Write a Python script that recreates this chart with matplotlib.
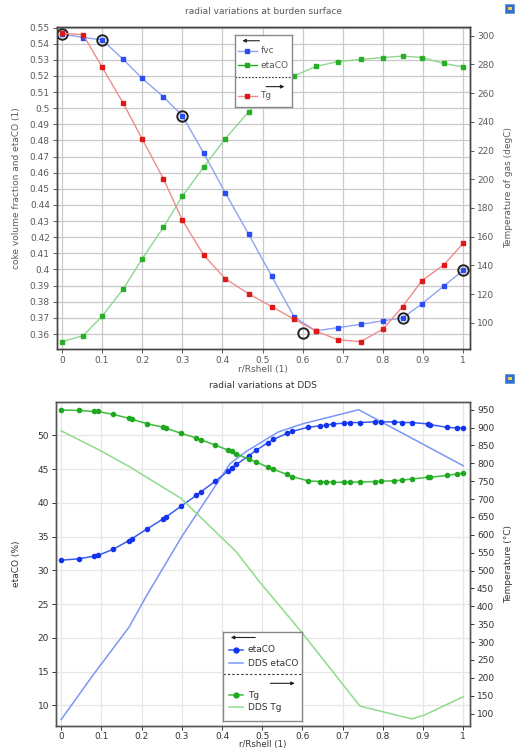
import matplotlib

matplotlib.use('Agg')  # no display
import matplotlib.pyplot as plt
from matplotlib.patches import Rectangle

plt.rcParams['font.family'] = ['DejaVu Sans']
plt.rcParams['font.size'] = 6.5

# ---- burden surface data ----
r_top = [0, 0.053, 0.1, 0.153, 0.2, 0.253, 0.3, 0.353, 0.407, 0.465,
         0.523, 0.579, 0.633, 0.687, 0.745, 0.801, 0.849, 0.897, 0.952, 1.0]
fvc = [0.546, 0.5438, 0.5424, 0.5302, 0.5185, 0.507, 0.4954, 0.4723, 0.4476, 0.422,
       0.3958, 0.3705, 0.362, 0.3639, 0.366, 0.3682, 0.370, 0.3787, 0.3898, 0.3995]
eta_top = [0.3553, 0.359, 0.371, 0.388, 0.4066, 0.4262, 0.4454, 0.4634, 0.481, 0.4977,
           0.5105, 0.520, 0.5259, 0.5288, 0.5302, 0.5314, 0.5323, 0.5314, 0.5277, 0.5255]
tg_top = [301.7, 300.7, 278.2, 252.9, 228, 200.3, 171.6, 147.2, 130.7, 120.2,
          111.2, 102.4, 94.2, 88.2, 86.8, 95.8, 111.2, 129.3, 140.4, 155.3]
# circled points
ring_r = [0, 0.1, 0.3, 0.6, 0.85, 1.0]
ring_v = [0.546, 0.5424, 0.4954, 0.3604, 0.370, 0.3995]

# ---- DDS data ----
r_dds = [0, 0.043, 0.082, 0.091, 0.129, 0.168, 0.176, 0.213, 0.253, 0.261,
         0.298, 0.336, 0.347, 0.383, 0.415, 0.424, 0.436, 0.467, 0.485, 0.514,
         0.528, 0.562, 0.575, 0.614, 0.643, 0.658, 0.677, 0.704, 0.718, 0.743,
         0.780, 0.795, 0.828, 0.848, 0.872, 0.912, 0.918, 0.959, 0.984, 1.0]
eta_dds = [31.5, 31.7, 32.1, 32.2, 33.1, 34.4, 34.7, 36.1, 37.6, 37.9,
           39.5, 41.1, 41.6, 43.2, 44.7, 45.2, 45.7, 47.0, 47.8, 48.9,
           49.4, 50.3, 50.6, 51.2, 51.4, 51.5, 51.7, 51.8, 51.9, 51.9,
           52.0, 52.0, 52.0, 51.9, 51.9, 51.7, 51.6, 51.2, 51.1, 51.1]
tg_dds = [949, 948, 945, 945, 937, 926, 923, 911, 901, 898,
          884, 871, 866, 851, 837, 834, 827, 811, 804, 789,
          783, 769, 763, 751, 749, 748, 747, 747, 747, 748,
          749, 750, 751, 753, 756, 761, 761, 766, 770, 773]
r_ref_eta = [0, 0.082, 0.169, 0.211, 0.3, 0.42, 0.46, 0.54, 0.6, 0.74, 1.0]
ref_eta = [7.9, 14.7, 21.6, 26.1, 35.0, 45.8, 47.6, 50.5, 51.7, 53.8, 45.5]
r_ref_tg = [0, 0.095, 0.169, 0.298, 0.435, 0.493, 0.6, 0.743, 0.872, 0.904, 1.0]
ref_tg = [891, 837, 791, 702, 553, 469, 325, 121, 85, 96, 147]

W, H = 516, 749
fig = plt.figure(figsize=(W / 100, H / 100), dpi=100)


def box(x0, y0, x1, y1):
    # pixel box (top-left origin) -> figure fraction rect
    return [x0 / W, 1 - y1 / H, (x1 - x0) / W, (y1 - y0) / H]


def style_axes(ax, ax2, txt, spine, grid):
    ax.set_xlim(-0.013, 1.017)
    ax.set_xticks([i / 10 for i in range(11)])
    ax.set_xticklabels(['0'] + ['%.1f' % (i / 10) for i in range(1, 10)] + ['1'])
    ax.grid(True, color=grid, lw=0.9)
    ax.set_axisbelow(True)
    for a in (ax, ax2):
        a.tick_params(colors=txt, labelsize=6.5, length=3, width=0.7, pad=2)
        for s in a.spines.values():
            s.set_color(spine)
            s.set_linewidth(1.0)
    top = ax.secondary_xaxis('top')
    top.set_xticks([i / 10 for i in range(11)])
    top.tick_params(direction='in', labeltop=False, length=3, width=0.7, colors=spine)
    top.spines['top'].set_visible(False)


def legend_box(rect):
    lg = fig.add_axes(rect, zorder=20)
    lg.set_xlim(0, 1)
    lg.set_ylim(0, 1)
    lg.set_xticks([])
    lg.set_yticks([])
    for s in lg.spines.values():
        s.set_color('#888888')
        s.set_linewidth(1.0)
    return lg


def arrow(lg, x0, x1, y):
    lg.annotate('', xy=(x1, y), xytext=(x0, y),
                arrowprops=dict(arrowstyle='-|>', color='#222222', lw=0.8, mutation_scale=5))


# ================= top chart =================
ax1 = fig.add_axes(box(56.7, 26.7, 470, 348.7))
ax1b = ax1.twinx()
txt1 = '#5a5a5a'
style_axes(ax1, ax1b, txt1, '#444444', '#c9c9c9')
ax1.set_ylim(0.3509, 0.5505)
ax1.set_yticks([0.36 + 0.01 * i for i in range(20)])
ax1.set_yticklabels(['%g' % round(0.36 + 0.01 * i, 2) for i in range(20)])
ax1b.set_ylim(81.9, 306.3)
ax1b.set_yticks(range(100, 301, 20))

ax1.plot(r_top, fvc, '-s', color='#8ea3f3', mfc='#2a4cf0', mec='#2a4cf0', ms=3, lw=1)
ax1.plot(r_top, eta_top, '-s', color='#8fd68f', mfc='#27b027', mec='#27b027', ms=3, lw=1)
ax1b.plot(r_top, tg_top, '-s', color='#ee8c8c', mfc='#e01818', mec='#e01818', ms=3, lw=1)
ax1.plot(ring_r, ring_v, 'o', mfc='none', mec='#222222', mew=1.4, ms=7.5, zorder=5)

ax1.set_title('radial variations at burden surface', color=txt1, fontsize=6.5, pad=9)
ax1.set_xlabel('r/Rshell (1)', color=txt1, fontsize=6.5, labelpad=0)
ax1.set_ylabel('coke volume fraction and etaCO (1)', color=txt1, fontsize=6.5, labelpad=6)
ax1b.set_ylabel('Temperature of gas (degC)', color=txt1, fontsize=6.5, labelpad=7)

lg1 = legend_box(box(235, 35, 291.7, 106.7))
arrow(lg1, 0.48, 0.08, 0.92)
rows1 = [(0.78, 'fvc', '#8ea3f3', '#2a4cf0'), (0.58, 'etaCO', '#22aa22', '#22aa22')]
for yy, lab, lc, mc in rows1:
    lg1.plot([0.05, 0.38], [yy, yy], color=lc, lw=1)
    lg1.plot([0.215], [yy], 's', color=mc, ms=3)
    lg1.text(0.45, yy, lab, va='center', color=txt1, fontsize=6.5)
lg1.plot([0, 1], [0.41, 0.41], ls=(0, (1.5, 1.5)), color='#333333', lw=0.8)
arrow(lg1, 0.5, 0.92, 0.28)
lg1.plot([0.05, 0.38], [0.15, 0.15], color='#ee8c8c', lw=1)
lg1.plot([0.215], [0.15], 's', color='#e01818', ms=3)
lg1.text(0.45, 0.15, 'Tg', va='center', color=txt1, fontsize=6.5)

# ================= bottom chart =================
ax2 = fig.add_axes(box(56, 402.3, 470, 725.7))
ax2b = ax2.twinx()
txt2 = '#333333'
style_axes(ax2, ax2b, txt2, '#555555', '#e6e6e6')
ax2.tick_params(axis='x', pad=1.5)
ax2.set_ylim(6.97, 54.9)
ax2.set_yticks(range(10, 51, 5))
ax2b.set_ylim(66, 970.7)
ax2b.set_yticks(range(100, 951, 50))

ax2.plot(r_dds, eta_dds, '-o', color='#3a5cf0', mfc='#1433ee', mec='#1433ee', ms=3, lw=1.1, zorder=4)
ax2.plot(r_ref_eta, ref_eta, '-', color='#7b97f6', lw=1.1, zorder=3)
ax2b.plot(r_dds, tg_dds, '-o', color='#3cbf3c', mfc='#1fa81f', mec='#1fa81f', ms=3, lw=1.1)
ax2b.plot(r_ref_tg, ref_tg, '-', color='#8ddc8d', lw=1.1)

ax2.set_title('radial variations at DDS', color=txt2, fontsize=6.5, pad=10)
ax2.set_xlabel('r/Rshell (1)', color=txt2, fontsize=6.2, labelpad=-0.5)
ax2.set_ylabel('etaCO (%)', color=txt2, fontsize=6.5, labelpad=12)
ax2b.set_ylabel('Temperature (\u00b0C)', color=txt2, fontsize=6.5, labelpad=7)

lg2 = legend_box(box(223.3, 631.7, 302.3, 720.7))
arrow(lg2, 0.44, 0.06, 0.935)
lg2.plot([0.07, 0.25], [0.80, 0.80], color='#3a5cf0', lw=1.1)
lg2.plot([0.16], [0.80], 'o', color='#1433ee', ms=3.5)
lg2.text(0.31, 0.80, 'etaCO', va='center', color=txt2, fontsize=6.5)
lg2.plot([0.07, 0.25], [0.645, 0.645], color='#7b97f6', lw=1.1)
lg2.text(0.31, 0.645, 'DDS etaCO', va='center', color=txt2, fontsize=6.5)
lg2.plot([0, 1], [0.52, 0.52], ls=(0, (2, 2)), color='#333333', lw=0.8)
arrow(lg2, 0.56, 0.94, 0.42)
lg2.plot([0.07, 0.25], [0.285, 0.285], color='#3cbf3c', lw=1.1)
lg2.plot([0.16], [0.285], 'o', color='#1fa81f', ms=3.5)
lg2.text(0.31, 0.285, 'Tg', va='center', color=txt2, fontsize=6.5)
lg2.plot([0.07, 0.25], [0.15, 0.15], color='#8ddc8d', lw=1.1)
lg2.text(0.31, 0.15, 'DDS Tg', va='center', color=txt2, fontsize=6.5)

# small toolbar icons in the corners
for y0 in (4, 374):
    fig.patches.append(Rectangle((505 / W, 1 - (y0 + 9) / H), 9 / W, 9 / H,
                                 transform=fig.transFigure, fc='#2f6fd6', ec='#6a8fc8', lw=0.6))
    fig.patches.append(Rectangle((508 / W, 1 - (y0 + 6) / H), 4 / W, 3 / H,
                                 transform=fig.transFigure, fc='#f2d24a', ec='none'))

fig.savefig('out.png', dpi=100, facecolor='white')
